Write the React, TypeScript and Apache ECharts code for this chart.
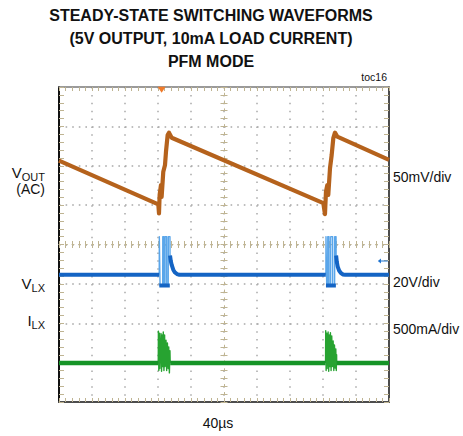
import React, { useEffect, useRef } from "react";
import * as echarts from "echarts";

const FONT = '"Liberation Sans", Arial, sans-serif';

// Scope: 10 horizontal divisions of 40 µs, 8 vertical divisions
const TIME_MIN_US = 0;
const TIME_MAX_US = 400;
const TIME_PER_DIV_US = 40;
const DIV_MIN = -4;
const DIV_MAX = 4;

const titleLines = [
  "STEADY-STATE SWITCHING WAVEFORMS",
  "(5V OUTPUT, 10mA LOAD CURRENT)",
  "PFM MODE",
];
const scaleLabels = ["50mV/div", "20V/div", "500mA/div"];
const timeBaseLabel = "40µs";
const figureTag = "toc16";

// VOUT (AC) trace, [time µs, position in divisions]
const voutTrace: [number, number][] = [
  [0, 2.13], [120.4, 1.02], [121.2, 0.79], [122.0, 1.26], [123.6, 1.51], [124.4, 1.21],
  [126.4, 1.85], [128.5, 2.02], [129.7, 2.36], [131.7, 2.78], [133.3, 2.84], [136.6, 2.71],
  [320.4, 1.05], [322.4, 0.77], [323.6, 1.34], [325.2, 1.51], [326.4, 1.26], [328.5, 1.94],
  [330.5, 2.27], [332.5, 2.7], [334.5, 2.84], [337.3, 2.74], [400, 2.15],
];

// VLX trace (main)
const vlxBase: [number, number | string][] = [
  [0, -0.77], [121.4, -0.77], [121.5, "-"],
  [121.6, -1.04], [134.3, -1.04], [134.4, "-"],
  [134.6, -0.28], [135.5, -0.42], [136.6, -0.52], [138.5, -0.64], [140.5, -0.71], [143, -0.75], [146, -0.77],
  [323.4, -0.77], [323.5, "-"],
  [323.6, -1.04], [335.6, -1.04], [335.7, "-"],
  [335.9, -0.28], [336.8, -0.45], [337.8, -0.56], [339.5, -0.66], [341.5, -0.72], [344, -0.76], [347, -0.77],
  [400, -0.77],
];

// VLX switching bursts
const vlxBurst: [number, number | string][] = [
  [121.5, -0.77], [121.6, 0.2], [122.4, 0.2], [122.5, -1.04], [125.7, -1.04], [125.8, 0.2], [127.3, 0.2],
  [127.4, -1.04], [128.5, -1.04], [128.6, 0.2], [130.5, 0.2], [130.6, -1.04], [132.4, -1.04], [132.5, 0.2],
  [134.5, 0.2], [134.6, -0.3], [134.7, "-"],
  [323.5, -0.77], [323.6, 0.2], [324.4, 0.2], [324.5, -1.04], [325.7, -1.04], [325.8, 0.2], [327.3, 0.2],
  [327.4, -1.04], [329.3, -1.04], [329.4, 0.2], [331.7, 0.2], [331.8, -1.04], [334.1, -1.04], [334.2, 0.2],
  [335.8, 0.2], [335.9, -0.3],
];

// ILX trace (main)
const ilxBase: [number, number | string][] = [
  [0, -3.01], [120.3, -3.01], [120.4, "-"],
  [134.8, -3.01], [323.1, -3.01], [323.2, "-"],
  [336.6, -3.01], [400, -3.01],
];

// ILX bursts
const ilxBurst: [number, number | string][] = [
  [120.3, -3.01], [120.5, -2.2], [121.0, -3.2], [121.6, -2.25], [122.2, -3.15], [123.6, -2.26], [124.3, -3.22],
  [125.0, -2.3], [125.7, -3.1], [126.4, -2.22], [127.2, -3.2], [128.0, -2.3], [128.6, -3.1], [129.7, -2.43],
  [130.5, -3.2], [131.4, -2.5], [132.4, -3.15], [133.0, -2.6], [133.8, -3.26], [134.5, -2.7], [134.8, -3.01],
  [134.9, "-"],
  [323.1, -3.01], [323.3, -2.19], [323.8, -3.2], [324.4, -2.25], [325.0, -3.15], [326.2, -2.22], [326.9, -3.22],
  [327.6, -2.3], [328.3, -3.1], [329.0, -2.24], [329.8, -3.2], [330.6, -2.32], [331.3, -3.1], [332.3, -2.45],
  [333.1, -3.2], [333.9, -2.55], [334.9, -3.14], [335.5, -2.65], [336.1, -3.2], [336.5, -2.8], [336.6, -3.01],
];

// trigger (orange) and channel-2 reference (blue) markers
const triggerMarker: [number, number] = [124.4, 3.93];
const vlxRefMarker: [number, number] = [392.5, -0.42];

const TICK_COLOR = "#bfb492";
const DOT_COLOR = "#a9a9a9";
const PLOT = { left: 59, top: 87, width: 330, height: 315 };
const H_MINOR = PLOT.width / 50;
const V_MINOR = PLOT.height / 40;

export default function App() {
  const ref = useRef<HTMLDivElement>(null);
  useEffect(() => {
    if (!ref.current) return;
    const chart = echarts.init(ref.current, null, { renderer: "svg", width: 463, height: 436 });

    const hidden = (gridIndex: number) => ({ gridIndex, type: "value", min: -1, max: 1, show: false });

    const frameAxisX = (pos: "bottom" | "top", color: string, width: number, split: boolean) => ({
      gridIndex: 0,
      type: "value",
      min: TIME_MIN_US,
      max: TIME_MAX_US,
      interval: TIME_PER_DIV_US,
      position: pos,
      axisLine: { show: true, onZero: false, lineStyle: { color, width } },
      axisTick: { show: true, inside: true, length: 4, lineStyle: { color: TICK_COLOR } },
      minorTick: { show: true, splitNumber: 5, length: 4, lineStyle: { color: TICK_COLOR } },
      splitLine: {
        show: split,
        showMinLine: false,
        showMaxLine: false,
        lineStyle: { color: DOT_COLOR, width: 1.5, type: [1.6, V_MINOR - 1.6] },
      },
      axisLabel: { show: false },
    });
    const frameAxisY = (pos: "left" | "right", color: string, width: number, split: boolean) => ({
      gridIndex: 0,
      type: "value",
      min: DIV_MIN,
      max: DIV_MAX,
      interval: 1,
      position: pos,
      axisLine: { show: true, onZero: false, lineStyle: { color, width } },
      axisTick: { show: true, inside: true, length: 5, lineStyle: { color: TICK_COLOR } },
      minorTick: { show: true, splitNumber: 5, length: 5, lineStyle: { color: TICK_COLOR } },
      splitLine: {
        show: split,
        showMinLine: false,
        showMaxLine: false,
        lineStyle: { color: DOT_COLOR, width: 1.5, type: [1.6, H_MINOR - 1.6] },
      },
      axisLabel: { show: false },
    });
    // centre cross-hair axes live in their own zero-size grids
    const centerAxisX = (inside: boolean) => ({
      gridIndex: 2,
      type: "value",
      min: TIME_MIN_US,
      max: TIME_MAX_US,
      interval: TIME_PER_DIV_US,
      position: "top",
      axisLine: { show: true, onZero: false, lineStyle: { color: TICK_COLOR, width: 1, type: [1.6, H_MINOR - 1.6] } },
      axisTick: { show: true, inside, length: 3.5, lineStyle: { color: TICK_COLOR } },
      minorTick: { show: true, splitNumber: 5, length: 3.5, lineStyle: { color: TICK_COLOR } },
      splitLine: { show: false },
      axisLabel: { show: false },
    });
    const centerAxisY = (inside: boolean) => ({
      gridIndex: 1,
      type: "value",
      min: DIV_MIN,
      max: DIV_MAX,
      interval: 1,
      position: "left",
      axisLine: { show: true, onZero: false, lineStyle: { color: TICK_COLOR, width: 1, type: [1.6, V_MINOR - 1.6] } },
      axisTick: { show: true, inside, length: 3.5, lineStyle: { color: TICK_COLOR } },
      minorTick: { show: true, splitNumber: 5, length: 3.5, lineStyle: { color: TICK_COLOR } },
      splitLine: { show: false },
      axisLabel: { show: false },
    });

    const txt = (text: string, x: number, y: number, size: number, align: string, weight = "normal") => ({
      type: "text",
      x,
      y,
      silent: true,
      style: {
        text,
        fill: "#111",
        font: `${weight} ${size}px ${FONT}`,
        align,
        verticalAlign: "middle",
      },
    });
    const subLabel = (main: string, sub: string, x: number, y: number) => ({
      type: "text",
      x,
      y,
      silent: true,
      style: {
        text: `{m|${main}}{s|${sub}}`,
        align: "right",
        verticalAlign: "middle",
        rich: {
          m: { fontSize: 15, fontFamily: FONT, fill: "#111", lineHeight: 20 },
          s: { fontSize: 11, fontFamily: FONT, fill: "#111", lineHeight: 12, verticalAlign: "bottom" },
        },
      },
    });

    const lineSeries = (name: string, data: any[], color: string, width: number, z: number) => ({
      name,
      type: "line",
      xAxisIndex: 0,
      yAxisIndex: 0,
      data,
      showSymbol: false,
      symbol: "none",
      connectNulls: false,
      silent: true,
      z,
      lineStyle: { color, width, join: "round" },
      itemStyle: { color },
    });

    const cx = PLOT.left + PLOT.width / 2;
    const cy = PLOT.top + PLOT.height / 2;

    const option: any = {
      animation: false,
      backgroundColor: "#ffffff",
      grid: [
        { ...PLOT, show: false },
        { left: cx, top: PLOT.top, width: 1, height: PLOT.height, show: false },
        { left: PLOT.left, top: cy, width: PLOT.width, height: 1, show: false },
      ],
      xAxis: [
        frameAxisX("bottom", "#4d4d4d", 2, true),
        frameAxisX("top", "#7a7a7a", 1.5, false),
        hidden(1),
        centerAxisX(true),
        centerAxisX(false),
      ],
      yAxis: [
        frameAxisY("left", "#111111", 2, true),
        frameAxisY("right", "#111111", 1.5, false),
        centerAxisY(true),
        centerAxisY(false),
        hidden(2),
      ],
      series: [
        {
          ...lineSeries("VOUT", voutTrace, "#b5621c", 4.2, 5),
          markPoint: {
            silent: true,
            label: { show: false },
            data: [
              {
                coord: triggerMarker,
                symbol: "triangle",
                symbolRotate: 180,
                symbolSize: [8, 6],
                itemStyle: { color: "#f07a2a" },
              },
            ],
          },
        },
        lineSeries("VLX burst", vlxBurst, "#5aa6ea", 1.4, 4),
        {
          ...lineSeries("VLX", vlxBase, "#1464c4", 4, 5),
          markPoint: {
            silent: true,
            label: { show: false },
            data: [
              {
                coord: vlxRefMarker,
                symbol: "path://M0,5 L5,0 L5,4 L16,4 L16,6 L5,6 L5,10 Z",
                symbolSize: [10, 5],
                itemStyle: { color: "#1f74d0" },
              },
            ],
          },
        },
        lineSeries("ILX burst", ilxBurst, "#27a331", 1.4, 4),
        lineSeries("ILX", ilxBase, "#169427", 4.5, 5),
      ],
      graphic: [
        txt(titleLines[0], 211, 15, 16, "center", "bold"),
        txt(titleLines[1], 211, 38, 16, "center", "bold"),
        txt(titleLines[2], 211, 61, 16, "center", "bold"),
        txt(figureTag, 387, 77, 10.5, "right"),
        subLabel("V", "OUT", 45, 172),
        txt("(AC)", 45, 189, 14, "right"),
        subLabel("V", "LX", 45, 283),
        subLabel("I", "LX", 45, 320),
        txt(scaleLabels[0], 393, 177, 14, "left"),
        txt(scaleLabels[1], 393, 282, 14, "left"),
        txt(scaleLabels[2], 393, 329, 14, "left"),
        txt(timeBaseLabel, 218, 423, 14, "center"),
      ],
    };
    chart.setOption(option);
    return () => chart.dispose();
  }, []);

  return (
    <div
      ref={ref}
      style={{ position: "absolute", left: 0, top: 0, width: 463, height: 436, background: "#fff" }}
    />
  );
}
